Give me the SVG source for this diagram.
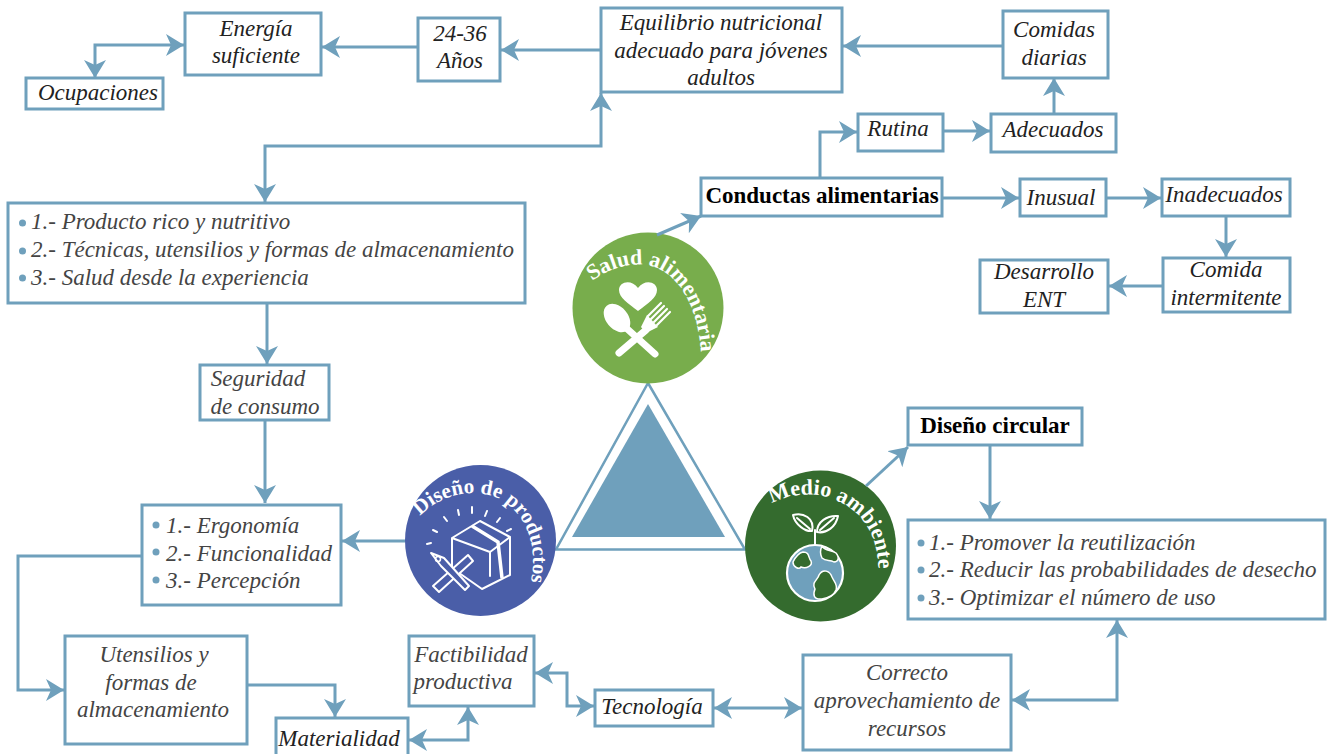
<svg xmlns="http://www.w3.org/2000/svg" width="1331" height="754" viewBox="0 0 1331 754">
<style>
.b{fill:#fff;stroke:#6fa0bc;stroke-width:3}
.c{fill:none;stroke:#6fa0bc;stroke-width:3;marker-end:url(#a)}
.d{marker-start:url(#a)}
text{font-family:"Liberation Serif","Times New Roman",serif}
.t{font-size:23px;font-style:italic;fill:#222;text-anchor:middle}
.l{font-size:23px;font-style:italic;fill:#444}
.m{text-anchor:middle}
.h{font-size:23px;font-weight:bold;fill:#000;text-anchor:middle}
.w{font-size:22px;font-weight:bold;fill:#fff}
.dot{fill:#6fa0bc}
.i{fill:none;stroke:#fff;stroke-width:2;stroke-linejoin:round;stroke-linecap:round}
</style>
<defs>
<marker id="a" markerUnits="userSpaceOnUse" markerWidth="20" markerHeight="22" refX="18" refY="11" orient="auto-start-reverse" viewBox="0 0 20 22"><path d="M18,11 L0,0 L5,11 L0,22 Z" fill="#6fa0bc"/></marker>
<path id="p1" d="M592,281 C610,268 630,263 645,265 C675,268 700,305 701,358"/>
<path id="p2" d="M772,504 C785,495 815,490 835,500 C865,512 880,540 878,574"/>
<path id="p3" d="M420,516 C440,495 470,488 495,497 C525,510 540,545 530,586"/>
</defs>
<rect width="1331" height="754" fill="#fff"/>
<g id="triangle">
<path d="M648,383L745,549.5H556Z" fill="#fff" stroke="#6fa0bc" stroke-width="2.5"/>
<path d="M648,404L725,537H572Z" fill="#6fa0bc"/>
</g>
<g id="energia"><rect class="b" x="185" y="13" width="136" height="62"/><text class="t" x="256" y="36">Energía</text><text class="t" x="256" y="63">suficiente</text></g>
<g id="ocupaciones"><rect class="b" x="26" y="78" width="137" height="31"/><text class="t" x="98" y="100">Ocupaciones</text></g>
<g id="edad"><rect class="b" x="418" y="18" width="82" height="63"/><text class="t" x="460" y="41">24-36</text><text class="t" x="460" y="68">Años</text></g>
<g id="equilibrio"><rect class="b" x="601" y="8" width="241" height="84"/><text class="t" x="721" y="30">Equilibrio nutricional</text><text class="t" x="721" y="58">adecuado para jóvenes</text><text class="t" x="721" y="85">adultos</text></g>
<g id="comidas"><rect class="b" x="1003" y="11" width="105" height="67"/><text class="t" x="1054" y="37">Comidas</text><text class="t" x="1054" y="65">diarias</text></g>
<g id="rutina"><rect class="b" x="858" y="114" width="85" height="37"/><text class="t" x="898" y="136">Rutina</text></g>
<g id="adecuados"><rect class="b" x="991" y="114" width="125" height="38"/><text class="t" x="1053" y="137">Adecuados</text></g>
<g id="conductas"><rect class="b" x="701" y="178" width="241" height="38"/><text class="h" x="822" y="203">Conductas alimentarias</text></g>
<g id="inusual"><rect class="b" x="1020" y="179" width="86" height="37"/><text class="t" x="1061" y="205">Inusual</text></g>
<g id="inadecuados"><rect class="b" x="1162" y="179" width="128" height="37"/><text class="t" x="1224" y="202">Inadecuados</text></g>
<g id="comida"><rect class="b" x="1163" y="258" width="127" height="54"/><text class="t" x="1226" y="277">Comida</text><text class="t" x="1226" y="305">intermitente</text></g>
<g id="desarrollo"><rect class="b" x="980" y="260" width="128" height="53"/><text class="t" x="1044" y="279">Desarrollo</text><text class="t" x="1044" y="307">ENT</text></g>
<g id="lista1"><rect class="b" x="8" y="203" width="517" height="100"/>
<circle class="dot" cx="22.5" cy="223" r="3.5"/><circle class="dot" cx="22.5" cy="251" r="3.5"/><circle class="dot" cx="22.5" cy="278" r="3.5"/>
<text class="l" x="31" y="229">1.- Producto rico y nutritivo</text><text class="l" x="31" y="257">2.- Técnicas, utensilios y formas de almacenamiento</text><text class="l" x="31" y="285">3.- Salud desde la experiencia</text></g>
<g id="seguridad"><rect class="b" x="200" y="365" width="129" height="55"/><text class="l m" x="258" y="386">Seguridad</text><text class="l m" x="265" y="414">de consumo</text></g>
<g id="lista2"><rect class="b" x="142" y="505" width="199" height="100"/>
<circle class="dot" cx="156" cy="525" r="3.5"/><circle class="dot" cx="156" cy="552" r="3.5"/><circle class="dot" cx="156" cy="580" r="3.5"/>
<text class="l" x="166" y="533">1.- Ergonomía</text><text class="l" x="166" y="561">2.- Funcionalidad</text><text class="l" x="166" y="588">3.- Percepción</text></g>
<g id="utensilios"><rect class="b" x="65" y="636" width="182" height="108"/><text class="l m" x="154" y="662">Utensilios y</text><text class="l m" x="151" y="690">formas de</text><text class="l m" x="153" y="717">almacenamiento</text></g>
<g id="materialidad"><rect class="b" x="276" y="718" width="132" height="40"/><text class="t" x="339" y="746">Materialidad</text></g>
<g id="factibilidad"><rect class="b" x="409" y="636" width="125" height="70"/><text class="l m" x="471" y="662">Factibilidad</text><text class="l m" x="463" y="689">productiva</text></g>
<g id="tecnologia"><rect class="b" x="595" y="690" width="118" height="36"/><text class="t" x="652" y="714">Tecnología</text></g>
<g id="correcto"><rect class="b" x="803" y="655" width="208" height="95"/><text class="l m" x="907" y="680">Correcto</text><text class="l m" x="907" y="708">aprovechamiento de</text><text class="l m" x="907" y="736">recursos</text></g>
<g id="lista3"><rect class="b" x="908" y="520" width="417" height="99"/>
<circle class="dot" cx="921" cy="543" r="3.5"/><circle class="dot" cx="921" cy="570" r="3.5"/><circle class="dot" cx="921" cy="598" r="3.5"/>
<text class="l" x="929" y="550">1.- Promover la reutilización</text><text class="l" x="929" y="577">2.- Reducir las probabilidades de desecho</text><text class="l" x="929" y="605">3.- Optimizar el número de uso</text></g>
<g id="circular"><rect class="b" x="908" y="408" width="174" height="37"/><text class="h" x="995" y="433">Diseño circular</text></g>
<g id="salud">
<circle cx="648" cy="308" r="75.5" fill="#78ad4c"/>
<path d="M638,311C628,303 619,298 619,290C619,281 632,279 638,288C644,279 657,281 657,290C657,298 648,303 638,311Z" fill="#fff"/>
<ellipse cx="617" cy="318" rx="16" ry="11" transform="rotate(50 617 318)" fill="#fff"/>
<path d="M624,326L655,354M646,330L619,353" stroke="#fff" stroke-width="7" stroke-linecap="round" fill="none"/>
<path d="M641,327L647,315L658,327L646,333Z" fill="#fff"/>
<path d="M648,316L661,303M651,319L664,306M654,322L667,309M657,325L670,312" stroke="#fff" stroke-width="2.2" stroke-linecap="round" fill="none"/>
<text class="w"><textPath href="#p1">Salud alimentaria</textPath></text>
</g>
<g id="medio">
<circle cx="820.5" cy="546" r="75.5" fill="#346b2e"/>
<circle cx="815" cy="573" r="28" fill="#6fa0bc" stroke="#fff" stroke-width="2.2"/>
<path d="M803,552C810,552 808,558 811,561C813,566 806,569 801,567C799,570 793,567 793,562C795,558 798,553 803,552Z" fill="#346b2e" stroke="#fff" stroke-width="1.5"/>
<path d="M822,546C826,552 830,549 836,553C840,558 838,562 834,562C830,559 826,562 822,558C820,554 820,550 822,546Z" fill="#346b2e" stroke="#fff" stroke-width="1.5"/>
<path d="M822,599C813,600 813,594 815,589C811,582 818,580 819,575C823,568 830,571 832,577C834,582 838,584 836,590C834,595 828,598 822,599Z" fill="#346b2e" stroke="#fff" stroke-width="1.5"/>
<path class="i" d="M815,545V530M812,531C806,532 795,525 793,515C803,512 815,518 812,531ZM817,532C817,522 827,515 838,516C836,527 826,534 817,532ZM797,518L810,529M834,518L820,530"/>
<text class="w"><textPath href="#p2">Medio ambiente</textPath></text>
</g>
<g id="diseno">
<circle cx="480.5" cy="540.5" r="75.5" fill="#4a5ea8"/>
<path class="i" d="M480,521L510,537V575L482,589L452,568V538ZM452,538L490,552L510,537M490,552V576"/>
<path d="M472,526L498,542L502,578" stroke="#fff" stroke-width="3.5" fill="none"/>
<path class="i" d="M427,544L431,543M433,530L437,532M444,517L447,521M458,510L459,515M472,507V513M487,511L485,516M500,518L497,522M511,529L507,531"/>
<path d="M433,586L468,555L473,561L439,592Z" fill="#4a5ea8" stroke="#fff" stroke-width="2" stroke-linejoin="round"/>
<path d="M431,553L444,558L469,586L465,590L441,566Z" fill="#4a5ea8" stroke="#fff" stroke-width="2" stroke-linejoin="round"/>
<circle cx="438" cy="559" r="2.5" fill="none" stroke="#fff" stroke-width="1.5"/>
<text class="w" style="font-size:21px"><textPath href="#p3">Diseño de productos</textPath></text>
</g>
<g id="connectors">
<path class="c" d="M1003,46H843"/>
<path class="c" d="M1054,114V78"/>
<path class="c" d="M943,131H990"/>
<path class="c" d="M820,178V132H857"/>
<path class="c" d="M942,198H1019"/>
<path class="c" d="M1106,198H1161"/>
<path class="c" d="M1226,216V257"/>
<path class="c" d="M1163,286H1109"/>
<path class="c" d="M601,50H501"/>
<path class="c" d="M418,47H322"/>
<path class="c d" d="M184,45H95V78"/>
<path class="c d" d="M601,93V146H265V202"/>
<path class="c" d="M267,303V364"/>
<path class="c" d="M265,420V503"/>
<path class="c" d="M405,541H342"/>
<path class="c" d="M142,556H18V690H64"/>
<path class="c" d="M247,685H335V717"/>
<path class="c d" d="M409,740H468V707"/>
<path class="c d" d="M535,673H567V706H594"/>
<path class="c d" d="M714,708H802"/>
<path class="c d" d="M1012,700H1117V620"/>
<path class="c" d="M657,235L701,216"/>
<path class="c" d="M866,486L908,447"/>
<path class="c" d="M990,445V519"/>
</g>
</svg>
